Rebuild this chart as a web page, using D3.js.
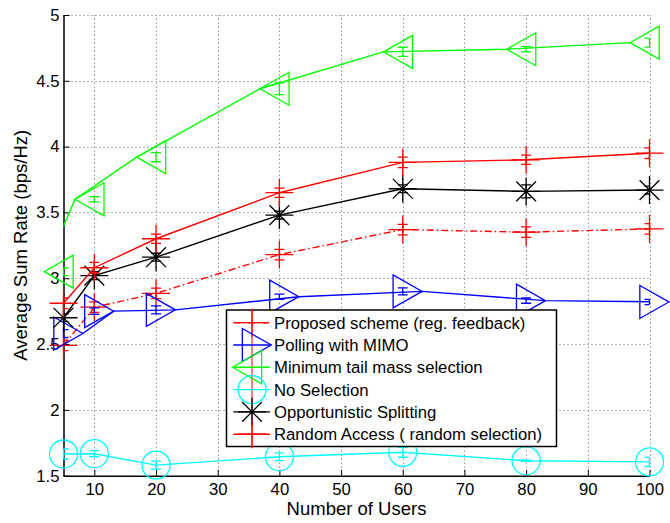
<!DOCTYPE html>
<html><head><meta charset="utf-8">
<script src="https://cdn.jsdelivr.net/npm/d3@7"></script>
<style>body{margin:0;background:#fff}svg{display:block}</style>
</head><body>
<script>
// ---- data ----
const users = [5, 10, 20, 40, 60, 80, 100];
const proposed   = [2.49, 2.78, 2.885, 3.18, 3.37, 3.35, 3.375];
const proposedErr= [0.04, 0.04, 0.04, 0.04, 0.04, 0.04, 0.04];
const polling    = [2.58, 2.75, 2.76, 2.86, 2.90, 2.83, 2.82];
const pollingErr = [0.03, 0.025, 0.03, 0.02, 0.027, 0.02, 0.02];
const minTail    = [3.05, 3.60, 3.92, 4.44, 4.72, 4.74, 4.79];
const minTailErr = [0.03, 0.02, 0.035, 0.045, 0.035, 0.02, 0.034];
const noSel      = [1.665, 1.667, 1.58, 1.644, 1.678, 1.614, 1.605];
const noSelErr   = [0.038, 0.023, 0.03, 0.03, 0.038, 0.005, 0.035];
const opport     = [2.70, 3.02, 3.16, 3.48, 3.68, 3.66, 3.67];
const opportErr  = [0.03, 0.03, 0.03, 0.03, 0.03, 0.05, 0.03];
const randomAcc  = [2.81, 3.08, 3.30, 3.65, 3.88, 3.90, 3.95];
const randomErr  = [0.04, 0.04, 0.035, 0.035, 0.04, 0.035, 0.04];
const xTicks = [10, 20, 30, 40, 50, 60, 70, 80, 90, 100];
const yTicks = [1.5, 2, 2.5, 3, 3.5, 4, 4.5, 5];
const legendLabels = ["Proposed scheme (reg. feedback)", "Polling with MIMO",
  "Minimum tail mass selection", "No Selection", "Opportunistic Splitting",
  "Random Access ( random selection)"];

const W = 670, H = 523;
const FONT = "'Liberation Sans', Arial, Helvetica, sans-serif";
const svg = d3.select("body").append("svg").attr("width", W).attr("height", H)
  .style("font-family", FONT);

const x = d3.scaleLinear().domain([5, 100]).range([63.5, 649.5]);
const y = d3.scaleLinear().domain([1.5, 5]).range([475.7, 15]);

svg.append("defs").append("clipPath").attr("id", "plotClip").append("rect")
  .attr("x", x(5)).attr("y", 0).attr("width", x(100) - x(5)).attr("height", H);

// grid
const grid = svg.append("g").attr("stroke", "#666").attr("stroke-width", 1)
  .attr("stroke-dasharray", "1,3");
grid.selectAll(".gx").data(xTicks).join("line")
  .attr("x1", d => Math.round(x(d)) + 0.5).attr("x2", d => Math.round(x(d)) + 0.5)
  .attr("y1", y(1.5)).attr("y2", y(5));
grid.selectAll(".gy").data(yTicks).join("line")
  .attr("y1", d => Math.round(y(d)) + 0.5).attr("y2", d => Math.round(y(d)) + 0.5)
  .attr("x1", x(5)).attr("x2", x(100));

// axes
const ax = svg.append("g").attr("transform", `translate(0,${y(1.5)})`)
  .call(d3.axisBottom(x).tickValues(xTicks).tickSizeInner(-6).tickSizeOuter(0).tickPadding(7));
const ay = svg.append("g").attr("transform", `translate(${x(5)},0)`)
  .call(d3.axisLeft(y).tickValues(yTicks).tickFormat(d => String(d)).tickSizeInner(-6).tickSizeOuter(0).tickPadding(4));
[ax, ay].forEach(g => {
  g.selectAll("path.domain").attr("stroke", "#000").attr("stroke-width", 1.5);
  g.selectAll(".tick line").attr("stroke", "#000").attr("stroke-width", 1);
  g.selectAll("text").attr("fill", "#000").style("font-size", "16.7px").style("font-family", FONT);
});

svg.append("text").attr("x", 356.5).attr("y", 514.5).attr("text-anchor", "middle")
  .style("font-size", "18.5px").text("Number of Users");
svg.append("text").attr("transform", `translate(27,${y(3.25)}) rotate(-90)`)
  .attr("text-anchor", "middle").style("font-size", "18.5px").text("Average Sum Rate (bps/Hz)");

// marker shapes
const TRI_H = 16.5, TRI_W = 29;
function triRight(g, cx, cy, col) { // centroid at cx
  const b = cx - TRI_W / 3, t = cx + TRI_W * 2 / 3;
  g.append("path").attr("d", `M${b},${cy - TRI_H}L${t},${cy}L${b},${cy + TRI_H}Z`)
    .attr("fill", "none").attr("stroke", col).attr("stroke-width", 1.3);
}
function triLeft(g, cx, cy, col) {
  const b = cx + TRI_W / 3, t = cx - TRI_W * 2 / 3;
  g.append("path").attr("d", `M${b},${cy - TRI_H}L${t},${cy}L${b},${cy + TRI_H}Z`)
    .attr("fill", "none").attr("stroke", col).attr("stroke-width", 1.3);
}
function plus(g, cx, cy, col) {
  g.append("path").attr("d", `M${cx - 14},${cy}H${cx + 14}M${cx},${cy - 14}V${cy + 14}`)
    .attr("stroke", col).attr("stroke-width", 1.3).attr("fill", "none");
}
function circle(g, cx, cy, col) {
  g.append("circle").attr("cx", cx).attr("cy", cy).attr("r", 14)
    .attr("fill", "none").attr("stroke", col).attr("stroke-width", 1.3);
}
function star(g, cx, cy, col) {
  const r = 14, d = r * Math.SQRT1_2;
  g.append("path").attr("d", `M${cx - r},${cy}H${cx + r}M${cx},${cy - r}V${cy + r}` +
    `M${cx - d},${cy - d}L${cx + d},${cy + d}M${cx - d},${cy + d}L${cx + d},${cy - d}`)
    .attr("stroke", col).attr("stroke-width", 1.3).attr("fill", "none");
}
const TIP = TRI_W * 2 / 3;

const series = [
  {vals: proposed,  err: proposedErr, col: "#ff0000", dash: "7,3,1.5,3", marker: plus,     lineDx: 0},
  {vals: polling,   err: pollingErr,  col: "#0000ff", dash: null,        marker: triRight, lineDx: TIP},
  {vals: minTail,   err: minTailErr,  col: "#00ff00", dash: null,        marker: triLeft,  lineDx: -TIP},
  {vals: noSel,     err: noSelErr,    col: "#00ffff", dash: null,        marker: circle,   lineDx: 0},
  {vals: opport,    err: opportErr,   col: "#000000", dash: null,        marker: star,     lineDx: 0},
  {vals: randomAcc, err: randomErr,   col: "#ff0000", dash: null,        marker: plus,     lineDx: 0}
];

const plotG = svg.append("g");
const CAP = 5;
series.forEach(s => {
  const g = plotG.append("g");
  const pts = users.map((u, i) => ({u, v: s.vals[i], e: s.err[i]}));
  const line = d3.line().x(d => x(d.u) + s.lineDx).y(d => y(d.v));
  g.append("path").attr("d", line(pts)).attr("fill", "none").attr("stroke", s.col)
    .attr("stroke-width", 1.4).attr("stroke-dasharray", s.dash)
    .attr("clip-path", "url(#plotClip)");
  // error bars
  pts.forEach(d => {
    const cx = x(d.u), lo = y(d.v - d.e), hi = y(d.v + d.e);
    const l = Math.max(cx - CAP, x(5)), r = Math.min(cx + CAP, x(100));
    g.append("path").attr("d", `M${cx},${lo}V${hi}M${l},${lo}H${r}M${l},${hi}H${r}`)
      .attr("stroke", s.col).attr("stroke-width", 1.3).attr("fill", "none");
  });
  pts.forEach(d => s.marker(g, x(d.u), y(d.v), s.col));
});

// legend
const lg = svg.append("g");
const LX0 = 226.5, LX1 = 556.5, LY0 = 310, LY1 = 446.5;
lg.append("rect").attr("x", LX0).attr("y", LY0).attr("width", LX1 - LX0).attr("height", LY1 - LY0)
  .attr("fill", "#fff").attr("stroke", "#000").attr("stroke-width", 1.5);
lg.append("line").attr("x1", 252).attr("x2", 252).attr("y1", LY0).attr("y2", LY1)
  .attr("stroke", "rgba(240,90,90,0.75)").attr("stroke-width", 2);
legendLabels.forEach((lab, i) => {
  const s = series[i];
  const cy = 322.7 + i * 22.3;
  lg.append("line").attr("x1", 233.3).attr("x2", 270).attr("y1", cy).attr("y2", cy)
    .attr("stroke", s.col).attr("stroke-width", 1.4).attr("stroke-dasharray", s.dash);
  s.marker(lg, 252, cy, s.col);
  lg.append("text").attr("x", 274).attr("y", cy + 6).style("font-size", "16.7px")
    .attr("fill", "#000").text(lab);
});
</script>
</body></html>
